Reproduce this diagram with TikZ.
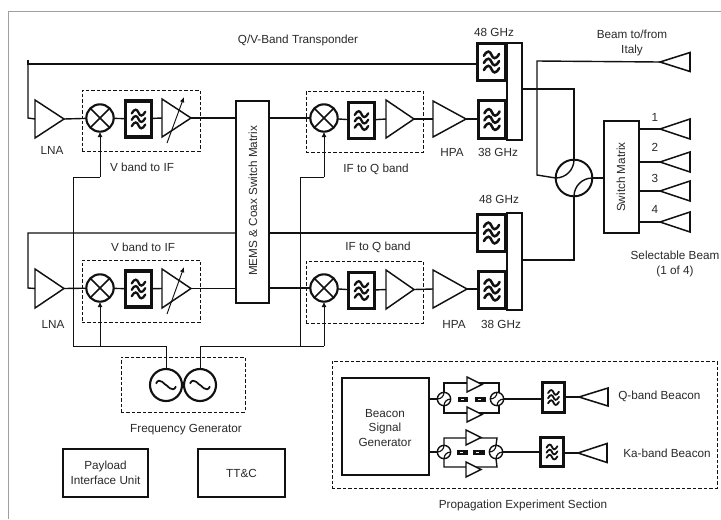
\documentclass[tikz,border=0pt]{standalone}
\usepackage{fontspec}
\setmainfont{Liberation Sans}
\usetikzlibrary{arrows.meta,calc}
\definecolor{ink}{HTML}{111111}
\definecolor{txt}{HTML}{2A2A2A}
\tikzset{
  line/.style={draw=ink,line width=1.05pt},
  heavy/.style={draw=ink,line width=1.7pt},
  boxn/.style={draw=ink,line width=1.45pt,inner sep=0pt,outer sep=0pt,fill=white},
  filt/.style={draw=ink,line width=2.9pt,inner sep=0pt,outer sep=0pt,fill=white},
  sfilt/.style={draw=ink,line width=2.6pt,inner sep=0pt,outer sep=0pt,fill=white},
  dash box/.style={draw=ink,line width=.6pt,dash pattern=on 2.6pt off 1.5pt,inner sep=0pt,outer sep=0pt},
  lab/.style={text=txt,font=\fontsize{8.8pt}{11pt}\selectfont,align=center,inner sep=0pt},
  mix/.style={circle,draw=ink,line width=1.6pt,inner sep=0pt,outer sep=0pt,fill=white,minimum size=20.5pt,
    path picture={\draw[ink,line width=1.3pt] (path picture bounding box.north west)--(path picture bounding box.south east)
      (path picture bounding box.north east)--(path picture bounding box.south west);}},
  osc/.style={circle,draw=ink,line width=1.6pt,inner sep=0pt,outer sep=0pt,fill=white,minimum size=24pt},
  tri/.style={draw=ink,line width=1.1pt,fill=white,line join=miter},
  lo/.style={draw=ink,line width=.65pt},
  loarrow/.style={draw=ink,line width=.65pt,-{Latex[length=4pt,width=3.6pt]}},
}
\newcommand{\rectn}[6]{\node[#2,minimum width={(#5-#3)*0.75pt},minimum height={(#6-#4)*0.75pt}] (#1) at ({(#3+#5)/2},{(#4+#6)/2}) {};}
\newcommand{\amptri}[5]{\draw[tri] (#2,#3) -- (#5,{(#3+#4)/2}) -- (#2,#4) -- cycle;
  \coordinate (#1-in) at (#2,{(#3+#4)/2}); \coordinate (#1-out) at (#5,{(#3+#4)/2});}
\newcommand{\anten}[5]{\draw[line,line width=1.15pt,fill=white] (#2,#4) -- (#3,{#4-#5}) -- (#3,{#4+#5}) -- cycle;
  \coordinate (#1) at (#2,#4);}
\newcommand{\waves}[2][1]{\begin{scope}[shift={(#2)},x=#1*.75pt,y=#1*.75pt,line width=#1*2pt,line cap=round]
  \foreach \yy in {7.5,0,-7.5}{
   \draw[ink] (-8,\yy-1) .. controls (-4.5,\yy+5.5) and (-1.5,\yy+4) .. (0,\yy) .. controls (1.5,\yy-4) and (4.5,\yy-5.5) .. (8,\yy+1);}
  \end{scope}}
\newcommand{\hybsmall}[3]{\node[circle,draw=ink,line width=1.05pt,fill=white,inner sep=0pt,outer sep=0pt,minimum size=10pt] (#1) at (#2,#3) {};
  \draw[ink,line width=.85pt] (#1.north) to[out=-90,in=0] (#1.west);
  \draw[ink,line width=.85pt] (#1.south) to[out=90,in=180] (#1.east);}
\newcommand{\blk}[5]{\fill[ink] (#2,#3) rectangle (#4,#5); \fill[white] ({#2+3},{#3+1.5}) rectangle ({#2+6},{#3+3}); \coordinate (#1) at ({(#2+#4)/2},{(#3+#5)/2});}
\begin{document}
\begin{tikzpicture}[x=0.75pt,y=-0.75pt]
\useasboundingbox (0,0) rectangle (721,519);
\fill[white] (0,0) rectangle (721,519);
\coordinate (fa) at (8,519); \coordinate (fb) at (8,11); \coordinate (fc) at (721,11);
\draw[draw=gray!75!white,line width=.75pt] (fa)--(fb)--(fc);

\rectn{dv1}{dash box}{82}{90}{200}{151}
\rectn{di1}{dash box}{306}{91}{423}{152}
\rectn{dv2}{dash box}{82}{260}{200}{322}
\rectn{di2}{dash box}{306}{261}{423}{323}
\rectn{dfg}{dash box}{121}{357}{245}{412}
\rectn{dpr}{dash box}{332}{361}{717}{488}

\rectn{mems}{boxn}{236}{101}{269}{303}
\rectn{com1}{boxn}{507}{43}{522}{140}
\rectn{com2}{boxn}{507}{213}{522}{310}
\rectn{swm}{boxn}{604}{121}{639}{233}
\rectn{piu}{boxn}{63}{449}{148}{497}
\rectn{ttc}{boxn}{198}{449}{285}{497}
\rectn{bsg}{boxn}{342}{378}{429}{475}

\foreach \nm/\yy in {1/118,2/288}{
  \node[mix] (mxa\nm) at (100,\yy) {};
  \node[mix] (mxb\nm) at (324,\yy) {};
}
\rectn{fa1}{filt}{125.5}{101}{151.5}{137}
\rectn{fb1}{filt}{348.5}{102.5}{374.5}{138.5}
\rectn{fa2}{filt}{125.5}{271}{151.5}{307}
\rectn{fb2}{filt}{348.5}{272.5}{374.5}{308.5}
\rectn{f48a}{filt}{477.5}{43.5}{505.5}{80.5}
\rectn{f38a}{filt}{478.5}{100.5}{505.5}{138.5}
\rectn{f48b}{filt}{477.5}{214.5}{505.5}{251.5}
\rectn{f38b}{filt}{478.5}{271.5}{505.5}{308.5}
\foreach \nn in {fa1,fb1,fa2,fb2}{\waves[.85]{\nn}}
\foreach \nn in {f48a,f38a,f48b,f38b}{\waves[.95]{\nn}}

\amptri{lna1}{35}{100}{138}{64}
\amptri{lna2}{35}{269}{308}{64}
\amptri{va1}{162}{99}{137}{191}
\amptri{va2}{162}{269}{308}{191}
\amptri{am1}{386}{100}{138}{414}
\amptri{am2}{386}{270}{309}{414}
\amptri{hp1}{433}{101}{137}{466}
\amptri{hp2}{433}{270}{308}{467}
\coordinate (ta1) at (167,143); \coordinate (tb1) at (184,97);
\coordinate (ta2) at (167,314); \coordinate (tb2) at (184,267);
\draw[line width=.7pt,draw=ink,-{Latex[length=4pt,width=3.4pt]}] (ta1)--(tb1);
\draw[line width=.7pt,draw=ink,-{Latex[length=4pt,width=3.4pt]}] (ta2)--(tb2);

\coordinate (tl1) at (28,60);
\draw[heavy] (tl1) -- (28,64) -- (f48a.west |- 0,64);
\draw[line] (tl1) -- (28,118) -- (lna1-in);
\draw[line] (lna1-out) -- (mxa1);
\draw[line] (mxa1) -- (fa1);
\draw[line] (fa1) -- (va1-in);
\draw[line] (va1-out) -- (mems.west |- va1-out);
\draw[line] (mems.east |- mxb1) -- (mxb1);
\draw[line] (mxb1) -- (fb1);
\draw[line] (fb1) -- (am1-in);
\draw[line] (am1-out) -- (hp1-in);
\draw[line] (hp1-out) -- (f38a.west |- hp1-out);

\coordinate (tl2) at (28,233);
\draw[line] (f48b.west |- 0,233) -- (mems.east |- 0,233);
\draw[line] (mems.west |- 0,233) -- (tl2) -- (28,288) -- (lna2-in);
\draw[line] (lna2-out) -- (mxa2);
\draw[line] (mxa2) -- (fa2);
\draw[line] (fa2) -- (va2-in);
\draw[line] (va2-out) -- (mems.west |- va2-out);
\draw[line] (mems.east |- mxb2) -- (mxb2);
\draw[line] (mxb2) -- (fb2);
\draw[line] (fb2) -- (am2-in);
\draw[line] (am2-out) -- (hp2-in);
\draw[line] (hp2-out) -- (f38b.west |- hp2-out);

\node[circle,draw=ink,line width=1.45pt,inner sep=0pt,outer sep=0pt,minimum size=27.5pt,fill=white] (hyb) at (574,178) {};
\draw[line] (com1.east |- 0,89) -- (574,89) -- (hyb.north);
\draw[line] (com2.east |- 0,260) -- (574,260) -- (hyb.south);
\draw[line] (hyb.north) to[out=-90,in=0] (hyb.west);
\draw[line] (hyb.south) to[out=90,in=180] (hyb.east);
\draw[line] (hyb.east) -- (swm.west |- hyb.east);
\anten{ait}{660}{690}{62}{9.5}
\anten{a1}{660}{690}{129}{10}
\anten{a2}{660}{690}{162}{10}
\anten{a3}{660}{690}{191}{10}
\anten{a4}{660}{690}{222}{10}
\draw[line] (ait) -- (537,61) -- (537,175) -- (hyb.west);
\draw[line] (swm.east |- a1) -- (a1);
\draw[line] (swm.east |- a2) -- (a2);
\draw[line] (swm.east |- a3) -- (a3);
\draw[line] (swm.east |- a4) -- (a4);

\node[osc] (os1) at (166,385) {};
\node[osc] (os2) at (200,385) {};
\foreach \nn in {os1,os2}{\draw[ink,line width=1.3pt] ($(\nn)+(-7.5pt,1pt)$) .. controls +(2.5pt,6pt) and +(-0pt,-1pt) .. ($(\nn)+(0pt,0pt)$) .. controls +(0pt,1pt) and +(-2.5pt,-6pt) .. ($(\nn)+(7.5pt,-1pt)$);}
\draw[lo] (os1.north) |- (73,346) -- (73,177) -- (100,177);
\draw[loarrow] (100,177) -- (mxa1.south);
\draw[loarrow] (100,346) -- (mxa2.south);
\draw[lo] (os2.north) |- (324,346);
\draw[loarrow] (324,346) -- (mxb2.south);
\draw[lo] (300,346) -- (300,177) -- (324,177);
\draw[loarrow] (324,177) -- (mxb1.south);

\hybsmall{ha1}{444}{399}
\hybsmall{ha2}{497}{399}
\hybsmall{hb1}{444}{452}
\hybsmall{hb2}{496}{452}
\draw[line] (ha1.north) -- (444,383) -- (499,383) -- (ha2.north -| 499,0);
\draw[line] (ha1.south) -- (444,413) -- (499,413) -- (ha2.south -| 499,0);
\draw[line] (hb1.north) -- (444,438) -- (497,438) -- (hb2.north);
\draw[line] (hb1.south) -- (444,467) -- (497,467) -- (hb2.south);
\amptri{t1}{467}{377}{392}{482}
\amptri{t2}{467}{407}{422}{482}
\amptri{t3}{466}{430}{445}{481}
\amptri{t4}{466}{462}{477}{481}
\blk{b1}{458}{397}{468}{402}
\blk{b2}{475}{397}{486}{402}
\blk{b3}{457}{450}{468}{455}
\blk{b4}{473}{450}{485}{455}
\rectn{fq}{sfilt}{542.5}{382.5}{564.5}{412.5}
\rectn{fk}{sfilt}{540.5}{437.5}{563.5}{466.5}
\waves[.68]{fq}
\waves[.68]{fk}
\anten{aq}{579}{608}{397}{9}
\anten{ak}{578}{607}{453}{9.5}
\draw[line] (bsg.east |- ha1) -- (ha1);
\draw[line] (bsg.east |- hb1) -- (hb1);
\draw[line] (ha2) -- (fq.west |- ha2);
\draw[line] (hb2) -- (fk.west |- hb2);
\draw[line] (fq.east |- aq) -- (aq);
\draw[line] (fk.east |- ak) -- (ak);

\node[lab] (l01) at (298,40) {Q/V-Band Transponder};
\node[lab] (l02) at (494,32) {48 GHz};
\node[lab] (l03) at (632,43) {Beam to/from\\Italy};
\node[lab] (l04) at (52,150) {LNA};
\node[lab] (l05) at (142,167) {V band to IF};
\node[lab] (l06) at (376,169) {IF to Q band};
\node[lab] (l07) at (452,152) {HPA};
\node[lab] (l08) at (498,152) {38 GHz};
\node[lab] (l09) at (499,199) {48 GHz};
\node[lab] (l10) at (143,247) {V band to IF};
\node[lab] (l11) at (378,247) {IF to Q band};
\node[lab] (l12) at (53,324) {LNA};
\node[lab] (l13) at (454,324) {HPA};
\node[lab] (l14) at (501,324) {38 GHz};
\node[lab,rotate=90] (l15) at (253,201) {MEMS \& Coax Switch Matrix};
\node[lab,rotate=90] (l16) at (621,177) {Switch Matrix};
\node[lab] (l17) at (655,117) {1};
\node[lab] (l18) at (655,147) {2};
\node[lab] (l19) at (655,178) {3};
\node[lab] (l20) at (655,209) {4};
\node[lab] (l21) at (675,264) {Selectable Beam\\(1 of 4)};
\node[lab] (l22) at (186,430) {Frequency Generator};
\node[lab] at (piu) {Payload\\Interface Unit};
\node[lab] at (ttc) {TT\&C};
\node[lab,align=center] at (385,428) {Beacon\\Signal\\Generator};
\node[lab,anchor=west] (l23) at (618,396) {Q-band Beacon};
\node[lab,anchor=west] (l24) at (623,453) {Ka-band Beacon};
\node[lab] (l25) at (523,505) {Propagation Experiment Section};
\end{tikzpicture}
\end{document}
